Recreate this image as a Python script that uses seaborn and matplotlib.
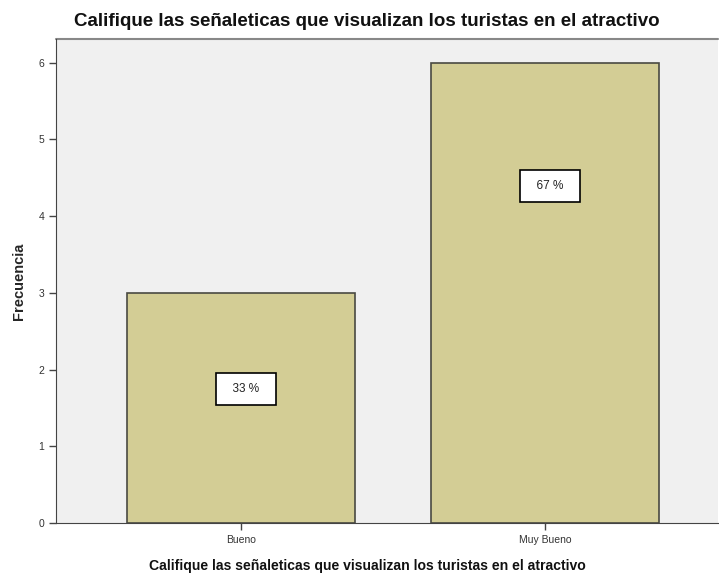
import seaborn as sns
import matplotlib
matplotlib.use("Agg")
import matplotlib.pyplot as plt
import pandas as pd

categorias = ["Bueno", "Muy Bueno"]
frecuencias = [3, 6]
porcentajes = ["33 %", "67 %"]
yticks = [0, 1, 2, 3, 4, 5, 6]

titulo = "Califique las señaleticas que visualizan los turistas en el atractivo"

sns.set_style("white")
plt.rcParams['font.family'] = ['Liberation Sans', 'DejaVu Sans']

df = pd.DataFrame({"cat": categorias, "freq": frecuencias})

fig = plt.figure(figsize=(7.19, 5.77), dpi=100)
ax = fig.add_axes([56 / 719, 1 - 523 / 577, (718 - 56) / 719, (523 - 39) / 577])
ax.set_facecolor("#f0f0f0")

sns.barplot(data=df, x="cat", y="freq", color="#d3cd95", saturation=1,
            edgecolor="#4a4a42", linewidth=1.2, width=0.75, ax=ax)

ax.set_xlim(-0.609, 1.569)
ax.set_ylim(0, 6.31)
ax.set_yticks(yticks)

# etiquetas de porcentaje dentro de las barras
label_frac = [0.583, 0.733]
for i, (f, p) in enumerate(zip(frecuencias, porcentajes)):
    ax.text(i + 0.015, f * label_frac[i], "  " + p + "  ", ha="center", va="center",
            fontsize=8.5, color="#222222",
            bbox=dict(boxstyle="square,pad=0.85", fc="white", ec="black", lw=1.2))

for s in ["top", "right"]:
    ax.spines[s].set_visible(False)
ax.spines["left"].set_color("#444444")
ax.spines["bottom"].set_color("#444444")
ax.plot([0, 1], [1, 1], transform=ax.transAxes, color="#888888", lw=1.5, clip_on=False)

ax.tick_params(axis="both", direction="out", length=5, width=1, color="#444444",
               labelsize=7.5, labelcolor="#333333", bottom=True, left=True)

ax.set_xlabel("")
ax.set_ylabel("Frecuencia", fontsize=10.5, fontweight="bold", labelpad=9)
fig.text(367 / 719, 1 - 566 / 577, titulo, ha="center", va="center",
         fontsize=10.1, fontweight="bold", color="#111111")
fig.text(367 / 719, 1 - 22 / 577, titulo, ha="center", va="center",
         fontsize=13.5, fontweight="bold", color="#111111")

fig.savefig("out.png", dpi=100, facecolor="white")
